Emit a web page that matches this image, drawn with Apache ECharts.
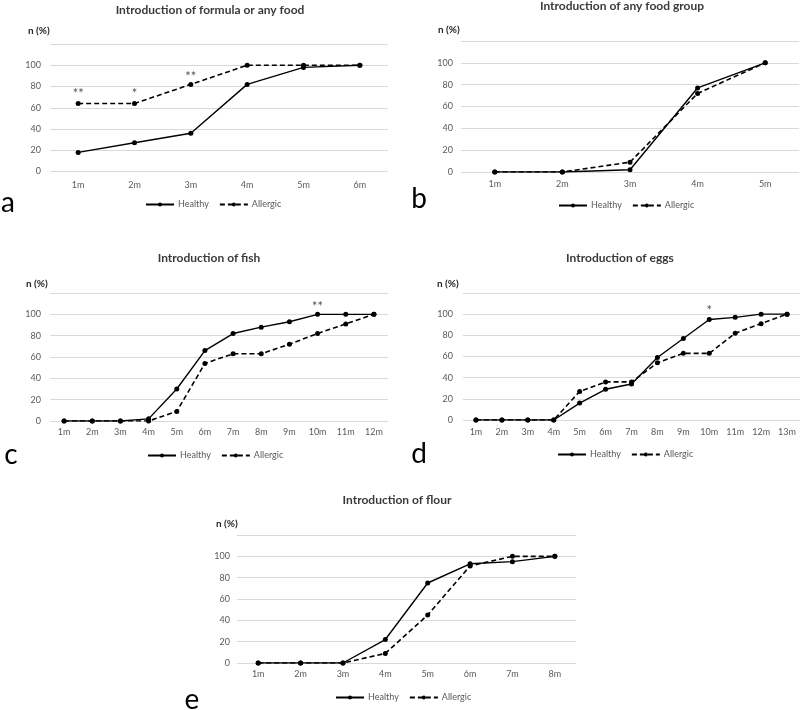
<!DOCTYPE html>
<html>
<head>
<meta charset="utf-8">
<script src="https://cdn.jsdelivr.net/npm/echarts@6/dist/echarts.min.js"></script>
<style>html,body{margin:0;padding:0;background:#fff}#c{width:800px;height:710px}</style>
</head>
<body>
<div id="c"></div>
<script>
// ---- data ----
const catsA = ['1m','2m','3m','4m','5m','6m'];
const healthyA = [18, 27, 36, 82, 98, 100];
const allergicA = [64, 64, 82, 100, 100, 100];
const sigA = [['1m', 77, '**'], ['2m', 77, '*'], ['3m', 93, '**']];

const catsB = ['1m','2m','3m','4m','5m'];
const healthyB = [0, 0, 2, 77, 100];
const allergicB = [0, 0, 9, 72, 100];
const sigB = [];

const catsC = ['1m','2m','3m','4m','5m','6m','7m','8m','9m','10m','11m','12m'];
const healthyC = [0, 0, 0, 2, 30, 66, 82, 88, 93, 100, 100, 100];
const allergicC = [0, 0, 0, 0, 9, 54, 63, 63, 72, 82, 91, 100];
const sigC = [['10m', 111, '**']];

const catsD = ['1m','2m','3m','4m','5m','6m','7m','8m','9m','10m','11m','12m','13m'];
const healthyD = [0, 0, 0, 0, 16, 29, 34, 59, 77, 95, 97, 100, 100];
const allergicD = [0, 0, 0, 0, 27, 36, 36, 54, 63, 63, 82, 91, 100];
const sigD = [['10m', 107, '*']];

const catsE = ['1m','2m','3m','4m','5m','6m','7m','8m'];
const healthyE = [0, 0, 0, 22, 75, 93, 95, 100];
const allergicE = [0, 0, 0, 9, 45, 91, 100, 100];
const sigE = [];

const yTicks = [0, 20, 40, 60, 80, 100];
const titles = ['Introduction of formula or any food','Introduction of any food group','Introduction of fish','Introduction of eggs','Introduction of flour'];
const letters = ['a','b','c','d','e'];
const yAxisName = 'n (%)';
const seriesNames = ['Healthy','Allergic'];

// ---- layout ----
const panels = [
  {cats: catsA, h: healthyA, a: allergicA, sig: sigA, grid: {left: 50, top: 44, width: 338, height: 127.5}, ylm: 9, xlm: 9, legend: {left: 145, top: 200}, title: [210, 10], nlab: [28, 31], letter: [8, 203]},
  {cats: catsB, h: healthyB, a: allergicB, sig: sigB, grid: {left: 461, top: 41, width: 338, height: 131}, ylm: 8, xlm: 8, legend: {left: 558, top: 201}, title: [622, 6], nlab: [438, 30], letter: [419, 199]},
  {cats: catsC, h: healthyC, a: allergicC, sig: sigC, grid: {left: 50, top: 293, width: 338, height: 128}, ylm: 9, xlm: 7, legend: {left: 147, top: 451}, title: [209, 258], nlab: [26, 284], letter: [11, 455]},
  {cats: catsD, h: healthyD, a: allergicD, sig: sigD, grid: {left: 463, top: 293, width: 337, height: 127}, ylm: 10, xlm: 8, legend: {left: 557, top: 450}, title: [620, 258], nlab: [437, 284], letter: [419, 454]},
  {cats: catsE, h: healthyE, a: allergicE, sig: sigE, grid: {left: 237, top: 535, width: 339, height: 128}, ylm: 7, xlm: 7, legend: {left: 335, top: 693}, title: [397, 500], nlab: [216, 524], letter: [192, 700]}
];

const FONT = 'Lato, "Open Sans", sans-serif';
const grids = [], xAxes = [], yAxes = [], series = [], legends = [], graphics = [];

panels.forEach((p, i) => {
  grids.push(Object.assign({containLabel: false}, p.grid));
  xAxes.push({
    type: 'category', gridIndex: i, data: p.cats, boundaryGap: true,
    axisLine: {show: false}, axisTick: {show: false},
    axisLabel: {color: '#595959', fontSize: 9, fontFamily: FONT, margin: p.xlm, interval: 0}
  });
  yAxes.push({
    type: 'value', gridIndex: i, min: 0, max: 120, interval: 20,
    axisLine: {show: false}, axisTick: {show: false},
    splitLine: {lineStyle: {color: '#d9d9d9', width: 1}},
    axisLabel: {color: '#595959', fontSize: 9, fontFamily: FONT, margin: p.ylm,
      formatter: v => (yTicks.indexOf(v) >= 0 ? String(v) : '')}
  });
  series.push({
    name: seriesNames[0], type: 'line', xAxisIndex: i, yAxisIndex: i, data: p.h,
    symbol: 'circle', symbolSize: 5, itemStyle: {color: '#000'},
    lineStyle: {color: '#000', width: 1.4, type: 'solid'}, animation: false, z: 3
  });
  series.push({
    name: seriesNames[1], type: 'line', xAxisIndex: i, yAxisIndex: i, data: p.a,
    symbol: 'circle', symbolSize: 5, itemStyle: {color: '#000'},
    lineStyle: {color: '#000', width: 1.6, type: [5, 3]}, animation: false, z: 3
  });
  if (p.sig.length) {
    series.push({
      type: 'scatter', xAxisIndex: i, yAxisIndex: i, symbolSize: 0,
      data: p.sig.map(s => ({value: [s[0], s[1]], label: {formatter: s[2]}})),
      label: {show: true, position: 'inside', color: '#262626', fontSize: 13, fontFamily: FONT, offset: [0, 4]},
      silent: true, animation: false, z: 4
    });
  }
  legends.push({
    data: seriesNames, left: p.legend.left, top: p.legend.top, orient: 'horizontal',
    itemWidth: 28, itemHeight: 5, itemGap: 10, padding: 0,
    textStyle: {color: '#595959', fontSize: 9, fontFamily: FONT, padding: [0, 0, 0, -1]},
    selectedMode: false
  });
  graphics.push({type: 'text', x: p.title[0], y: p.title[1], style: {text: titles[i], font: 'bold 12px ' + FONT, fill: '#3a3a3a', textAlign: 'center', textVerticalAlign: 'middle'}});
  graphics.push({type: 'text', x: p.nlab[0], y: p.nlab[1], style: {text: yAxisName, font: 'bold 10px ' + FONT, fill: '#262626', textAlign: 'left', textVerticalAlign: 'middle'}});
  graphics.push({type: 'text', x: p.letter[0], y: p.letter[1], style: {text: letters[i], font: '28px ' + FONT, fill: '#000', textAlign: 'center', textVerticalAlign: 'middle'}});
});

const chart = echarts.init(document.getElementById('c'), null, {renderer: 'canvas'});
chart.setOption({
  backgroundColor: '#fff',
  animation: false,
  grid: grids, xAxis: xAxes, yAxis: yAxes, series: series, legend: legends,
  graphic: graphics
});
</script>
</body>
</html>
